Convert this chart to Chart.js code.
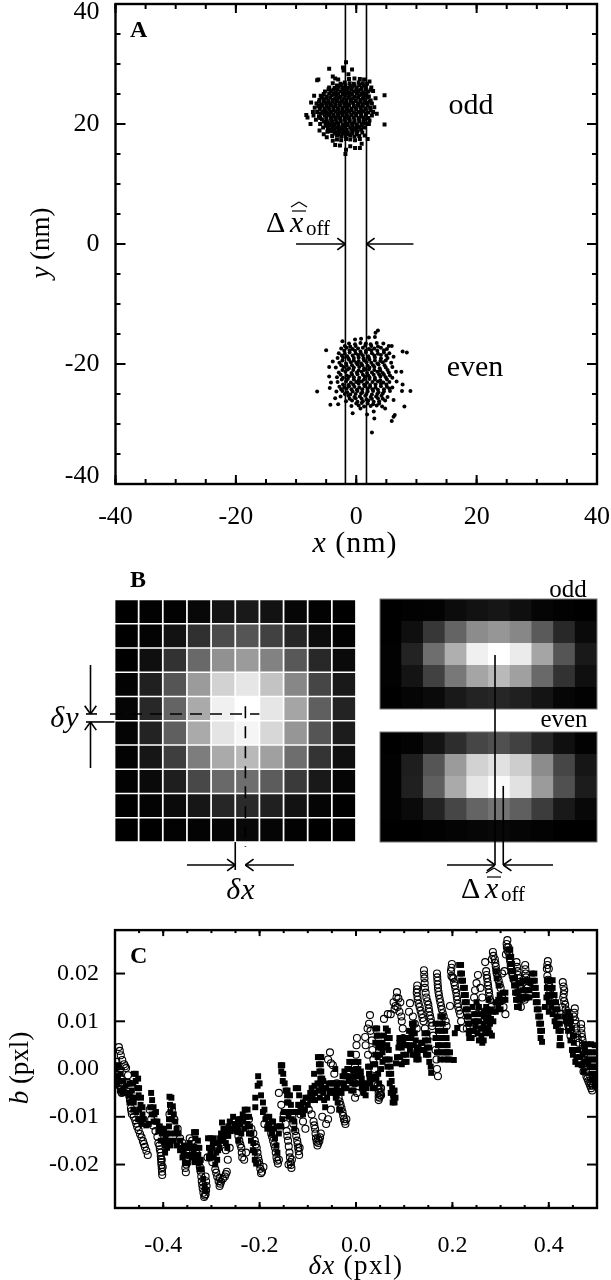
<!DOCTYPE html>
<html>
<head>
<meta charset="utf-8">
<title>Panels A, B, C</title>
<script src="https://cdn.jsdelivr.net/npm/chart.js@4"></script>
<style>
  body { margin: 0; background: #fff; }
  #page { position: relative; width: 611px; height: 1280px; overflow: hidden; }
  canvas { position: absolute; }
</style>
</head>
<body>
<div id="page">
  <canvas id="chartA" width="611" height="570" style="left:0px;top:0px"></canvas>
  <canvas id="chartB" width="380" height="350" style="left:0px;top:560px"></canvas>
  <canvas id="chartOdd" width="241" height="150" style="left:370px;top:570px"></canvas>
  <canvas id="chartEven" width="241" height="350" style="left:370px;top:570px"></canvas>
  <canvas id="chartC" width="611" height="355" style="left:0px;top:925px"></canvas>
</div>
<script>
const SERIF = '"Liberation Serif"';

// panel A, localisations (nm)
const axisTicksA = [-40, -20, 0, 20, 40];
const offsetLinesA = [-1.8, 1.7];
const oddPoints = [
  [-4.5,29.2],[-6.5,27.3],[-6.3,27.4],[-1.7,30.3],[-2.2,29.4],[-2.1,28.9],[-0.7,29.1],[-1.3,28.3],[-3.9,27.9],[-3.5,27.6],
  [4.7,24.8],[4.7,19.9],[-8.1,21.1],[-8.3,21.5],[-7.6,20.0],[-7.2,22.0],[-7.5,23.6],[-7.0,24.7],[2.2,27.1],[2.5,26.1],
  [3.2,24.3],[3.4,21.7],[2.1,20.0],[1.9,17.5],[0.9,16.7],[0.6,16.0],[-0.2,16.0],[-1.0,16.3],[-2.7,16.4],[-1.8,15.0],
  [-3.5,16.5],[-3.9,17.2],[-4.9,17.8],[-5.4,18.3],[-6.1,18.9],[-1.7,15.7],
  [-3.0,27.4],[-1.2,27.5],[-0.3,27.6],[0.6,27.5],[1.3,27.4],
  [-3.9,26.8],[-2.6,26.7],[-1.9,26.9],[-1.1,26.8],[-0.4,26.7],[0.4,26.9],[1.1,26.8],[1.8,26.7],
  [-4.5,26.1],[-3.6,26.0],[-2.9,26.2],[-2.2,26.1],[-1.4,26.0],[-0.7,26.2],[0.1,26.1],[0.9,26.0],[1.6,26.2],
  [-5.2,25.4],[-4.2,25.5],[-3.4,25.3],[-2.6,25.4],[-1.9,25.5],[-1.2,25.3],[-0.4,25.4],[0.3,25.5],[1.2,25.3],[2.0,25.4],[2.8,25.5],
  [-5.9,24.7],[-4.9,24.6],[-4.1,24.8],[-3.3,24.7],[-2.6,24.6],[-1.8,24.8],[-1.1,24.7],[-0.3,24.6],[0.5,24.8],[1.3,24.7],[2.1,24.6],
  [-6.1,24.0],[-5.4,24.1],[-4.6,23.9],[-3.9,24.0],[-3.1,24.1],[-2.4,23.9],[-1.6,24.0],[-0.9,24.1],[-0.1,23.9],[0.7,24.0],[1.4,24.1],[2.4,23.9],
  [-6.6,23.4],[-5.8,23.3],[-5.0,23.5],[-4.3,23.4],[-3.5,23.3],[-2.8,23.5],[-2.0,23.4],[-1.3,23.3],[-0.5,23.5],[0.3,23.4],[1.0,23.3],[1.8,23.5],[2.6,23.4],
  [-6.9,22.7],[-6.0,22.8],[-5.3,22.6],[-4.6,22.7],[-3.8,22.8],[-3.1,22.6],[-2.3,22.7],[-1.6,22.8],[-0.8,22.6],[-0.1,22.7],[0.7,22.8],[1.5,22.6],[2.3,22.7],[3.0,22.8],
  [-6.5,22.0],[-5.6,22.1],[-4.9,21.9],[-4.2,22.0],[-3.4,22.1],[-2.7,21.9],[-1.9,22.0],[-1.2,22.1],[-0.4,21.9],[0.4,22.0],[1.2,22.1],[2.0,21.9],[2.8,22.0],
  [-7.1,21.4],[-6.2,21.3],[-5.2,21.5],[-4.5,21.4],[-3.8,21.3],[-3.0,21.5],[-2.3,21.4],[-1.5,21.3],[-0.8,21.5],[0.0,21.4],[0.8,21.3],[1.6,21.5],[2.6,21.4],
  [-6.7,20.7],[-5.7,20.8],[-4.9,20.6],[-4.1,20.7],[-3.4,20.8],[-2.6,20.6],[-1.9,20.7],[-1.1,20.8],[-0.3,20.6],[0.5,20.7],[1.3,20.8],[2.2,20.6],
  [-6.0,20.0],[-5.1,20.1],[-4.4,19.9],[-3.7,20.0],[-3.0,20.1],[-2.2,19.9],[-1.5,20.0],[-0.7,20.1],[0.1,19.9],[0.9,20.0],[1.6,20.1],
  [-5.5,19.4],[-4.7,19.3],[-4.0,19.5],[-3.3,19.4],[-2.5,19.3],[-1.8,19.5],[-1.0,19.4],[-0.3,19.3],[0.5,19.5],[1.3,19.4],
  [-4.8,18.7],[-4.2,18.8],[-3.5,18.6],[-2.8,18.7],[-2.1,18.8],[-1.4,18.6],[-0.6,18.7],[0.2,18.8],[1.0,18.6],
  [-4.0,18.0],[-3.2,18.1],[-2.5,17.9],[-1.8,18.0],[-1.0,18.1],[-0.3,17.9],[0.5,18.0],[1.4,18.1],
  [-3.2,17.4],[-2.5,17.3],[-1.7,17.5],[-1.0,17.4],[-0.2,17.3],[0.6,17.5]
];
const oddCore = [
  [-3.2,26.4],[-2.5,26.5],[-1.8,26.4],[-1.0,26.3],[-0.3,26.4],[0.5,26.5],[1.2,26.4],
  [-4.6,25.8],[-3.8,25.7],[-3.1,25.8],[-2.3,25.7],[-1.6,25.8],[-0.8,25.7],[0.0,25.8],[0.8,25.7],[1.6,25.8],[2.4,25.7],
  [-5.4,25.0],[-4.5,25.1],[-3.7,25.0],[-3.0,25.1],[-2.2,25.0],[-1.5,25.1],[-0.7,25.0],[0.1,25.1],[0.9,25.0],[1.7,25.1],
  [-5.7,24.4],[-5.0,24.3],[-4.3,24.4],[-3.5,24.3],[-2.8,24.4],[-2.0,24.3],[-1.3,24.4],[-0.5,24.3],[0.3,24.4],[1.1,24.3],[1.9,24.4],
  [-6.2,23.7],[-5.4,23.7],[-4.7,23.6],[-3.9,23.7],[-3.2,23.8],[-2.4,23.7],[-1.7,23.6],[-0.9,23.7],[-0.1,23.8],[0.7,23.7],[1.4,23.6],[2.2,23.7],
  [-6.3,23.0],[-5.6,23.1],[-4.9,23.0],[-4.2,23.1],[-3.4,23.0],[-2.7,23.1],[-1.9,23.0],[-1.2,23.1],[-0.4,23.0],[0.3,23.1],[1.1,23.0],[1.9,23.1],
  [-6.1,22.4],[-5.2,22.3],[-4.5,22.4],[-3.8,22.3],[-3.0,22.4],[-2.3,22.3],[-1.5,22.4],[-0.8,22.3],[0.0,22.4],[0.8,22.3],[1.6,22.4],[2.4,22.3],
  [-5.9,21.7],[-5.3,21.8],[-4.6,21.7],[-3.8,21.6],[-3.1,21.7],[-2.3,21.8],[-1.6,21.7],[-0.8,21.6],[0.0,21.7],[0.8,21.8],[1.6,21.7],
  [-6.0,21.0],[-5.0,21.1],[-4.2,21.0],[-3.4,21.1],[-2.7,21.0],[-1.9,21.1],[-1.2,21.0],[-0.4,21.1],[0.4,21.0],[1.2,21.1],[2.0,21.0],
  [-5.4,20.4],[-4.7,20.3],[-4.0,20.4],[-3.3,20.3],[-2.6,20.4],[-1.8,20.3],[-1.1,20.4],[-0.3,20.3],[0.5,20.4],[1.2,20.3],
  [-5.0,19.7],[-4.3,19.8],[-3.6,19.7],[-2.9,19.6],[-2.1,19.7],[-1.4,19.8],[-0.6,19.7],[0.1,19.6],[0.9,19.7],
  [-4.4,19.0],[-3.7,19.1],[-3.0,19.0],[-2.3,19.1],[-1.6,19.0],[-0.8,19.1],[0.0,19.0],[0.8,19.1],
  [-3.6,18.4],[-2.9,18.3],[-2.2,18.4],[-1.4,18.3],[-0.7,18.4],[0.1,18.3]
];
const evenPoints = [
  [-6.5,-24.6],[-5.0,-17.7],[-4.3,-26.8],[-3.0,-26.7],[-4.5,-22.1],[-4.2,-23.1],[-4.4,-24.0],[-4.5,-20.5],[-3.9,-19.6],[-3.5,-25.7],
  [-2.3,-16.2],[-0.6,-28.2],[2.6,-31.4],[3.0,-29.1],[5.9,-29.5],[6.2,-28.8],[6.4,-28.5],[8.0,-27.1],[9.0,-24.5],[7.7,-17.9],
  [8.4,-18.1],[7.6,-24.5],[7.7,-23.4],[7.5,-21.3],[3.2,-14.8],[3.6,-14.4],[3.1,-15.5],[-0.2,-15.9],[0.8,-15.8],[2.1,-15.6],
  [5.9,-17.0],[5.4,-17.0],[6.2,-18.8],[6.2,-26.0],[4.8,-27.4],[2.9,-27.9],[1.8,-28.4],[0.7,-27.4],
  [-1.2,-16.6],[-0.2,-16.7],[0.7,-16.5],[1.6,-16.6],[2.4,-16.7],[3.4,-16.5],[4.5,-16.6],
  [-2.5,-17.4],[-1.6,-17.3],[-0.6,-17.5],[0.3,-17.4],[1.1,-17.3],[2.1,-17.5],[3.0,-17.4],[4.1,-17.3],[5.1,-17.5],
  [-2.9,-18.2],[-1.9,-18.3],[-1.1,-18.1],[-0.1,-18.2],[0.8,-18.3],[1.6,-18.1],[2.6,-18.2],[3.6,-18.3],[4.6,-18.1],[5.5,-18.2],
  [-3.1,-19.0],[-2.2,-18.9],[-1.3,-19.1],[-0.4,-19.0],[0.4,-18.9],[1.2,-19.1],[2.1,-19.0],[3.1,-18.9],[4.1,-19.1],[5.2,-19.0],
  [-2.8,-19.8],[-1.7,-19.9],[-0.9,-19.7],[0.0,-19.8],[0.8,-19.9],[1.7,-19.7],[2.5,-19.8],[3.5,-19.9],[4.4,-19.7],[5.8,-19.8],
  [-3.4,-20.6],[-2.1,-20.5],[-1.2,-20.7],[-0.4,-20.6],[0.5,-20.5],[1.3,-20.7],[2.2,-20.6],[3.0,-20.5],[3.9,-20.7],[4.9,-20.6],[6.0,-20.5],
  [-2.9,-21.4],[-1.8,-21.3],[-0.8,-21.5],[0.1,-21.4],[0.9,-21.3],[1.8,-21.5],[2.6,-21.4],[3.5,-21.3],[4.4,-21.5],[5.4,-21.4],[6.6,-21.3],
  [-3.2,-22.2],[-2.2,-22.3],[-1.2,-22.1],[-0.4,-22.2],[0.5,-22.3],[1.4,-22.1],[2.2,-22.2],[3.1,-22.3],[4.0,-22.1],[4.9,-22.2],[6.0,-22.3],
  [-3.1,-23.0],[-1.7,-22.9],[-0.9,-23.1],[0.0,-23.0],[0.9,-22.9],[1.8,-23.1],[2.7,-23.0],[3.6,-22.9],[4.5,-23.1],[5.5,-23.0],[6.7,-22.9],
  [-2.8,-23.8],[-2.0,-23.9],[-1.2,-23.7],[-0.3,-23.8],[0.5,-23.9],[1.4,-23.7],[2.3,-23.8],[3.2,-23.9],[4.1,-23.7],[5.1,-23.8],[6.0,-23.9],
  [-3.3,-24.6],[-2.3,-24.5],[-1.5,-24.7],[-0.6,-24.6],[0.2,-24.5],[1.0,-24.7],[1.9,-24.6],[2.8,-24.5],[3.7,-24.7],[4.6,-24.6],[5.6,-24.5],
  [-2.6,-25.4],[-1.3,-25.3],[-0.3,-25.5],[0.6,-25.4],[1.5,-25.3],[2.4,-25.5],[3.3,-25.4],[4.2,-25.3],[5.2,-25.5],
  [-1.7,-26.2],[-0.7,-26.1],[0.2,-26.3],[1.1,-26.2],[2.0,-26.1],[2.9,-26.3],[3.8,-26.2],[4.8,-26.1],
  [-0.8,-27.0],[0.4,-26.9],[1.3,-27.1],[2.4,-27.0],[3.4,-26.9],[4.3,-27.1]
];
const evenCore = [
  [-1.9,-17.0],[-1.0,-17.1],[-0.1,-17.0],[1.5,-16.9],[2.5,-17.0],[3.6,-17.1],
  [-2.0,-17.8],[-1.1,-17.7],[-0.2,-17.8],[0.7,-17.9],[1.6,-17.8],[2.5,-17.7],[3.5,-17.8],[4.6,-17.7],
  [-2.4,-18.6],[-1.5,-18.7],[-0.6,-18.6],[0.3,-18.5],[1.1,-18.6],[2.0,-18.7],[3.0,-18.6],[4.1,-18.5],[5.0,-18.6],
  [-2.3,-19.4],[-1.2,-19.3],[-0.4,-19.4],[0.4,-19.5],[1.3,-19.4],[2.2,-19.3],[3.1,-19.4],[4.0,-19.5],[4.9,-19.4],
  [-2.5,-20.2],[-1.6,-20.3],[-0.7,-20.2],[0.2,-20.1],[1.0,-20.2],[1.9,-20.3],[2.8,-20.2],[3.7,-20.1],[4.7,-20.2],
  [-2.3,-21.0],[-1.4,-20.9],[-0.5,-21.0],[0.4,-21.1],[1.3,-21.0],[2.1,-20.9],[3.0,-21.0],[4.0,-21.1],[5.2,-21.0],
  [-2.6,-21.8],[-1.6,-21.9],[-0.7,-21.8],[0.2,-21.7],[1.1,-21.8],[2.0,-21.9],[2.9,-21.8],[3.8,-21.7],[4.6,-21.8],[5.6,-21.9],
  [-2.4,-22.6],[-1.4,-22.5],[-0.4,-22.6],[0.4,-22.7],[1.3,-22.6],[2.2,-22.5],[3.1,-22.6],[4.0,-22.7],[5.1,-22.6],
  [-2.2,-23.4],[-1.3,-23.5],[-0.5,-23.4],[0.4,-23.3],[1.3,-23.4],[2.3,-23.5],[3.2,-23.4],[4.1,-23.3],[5.0,-23.4],
  [-2.5,-24.2],[-1.6,-24.1],[-0.8,-24.2],[0.1,-24.3],[1.0,-24.2],[1.9,-24.1],[2.7,-24.2],[3.6,-24.3],[4.6,-24.2],[5.5,-24.1],
  [-1.9,-25.0],[-1.0,-25.1],[-0.1,-25.0],[0.8,-24.9],[1.7,-25.0],[2.6,-25.1],[3.5,-25.0],[4.4,-24.9],
  [-1.1,-25.8],[-0.1,-25.7],[0.9,-25.8],[1.7,-25.9],[2.6,-25.8],[3.6,-25.7],[4.4,-25.8],
  [0.0,-26.6],[0.9,-26.5],[1.9,-26.6],[2.8,-26.7],[3.8,-26.6]
];

// panel B, grey level of each pixel (0-255), rows top to bottom
const greyFull = [
  [0,2,2,8,20,25,18,6,2,0],
  [0,3,18,48,75,85,65,38,12,2],
  [0,15,50,105,145,155,130,88,40,10],
  [3,32,85,155,210,230,195,135,70,25],
  [5,40,100,170,240,255,230,165,95,35],
  [5,35,95,170,228,245,215,150,85,28],
  [3,22,62,125,170,185,160,110,52,15],
  [2,10,30,72,105,110,92,58,25,5],
  [0,3,10,22,38,42,32,18,5,0],
  [0,0,2,3,5,8,5,2,0,0]
];
const greyOdd = [
  [0,2,3,12,18,22,15,5,2,0],
  [0,15,55,100,140,150,135,90,40,10],
  [2,35,110,175,240,255,235,165,85,25],
  [2,20,65,120,165,185,160,105,50,15],
  [0,5,10,25,35,38,32,20,6,2]
];
const greyEven = [
  [0,3,20,45,70,80,65,38,15,2],
  [2,30,85,155,210,225,205,140,70,22],
  [2,32,95,170,230,250,225,155,80,28],
  [2,10,35,70,100,115,95,60,25,8],
  [0,0,2,4,6,8,5,3,0,0]
];
const pixelColumns = ['1','2','3','4','5','6','7','8','9','10'];

// panel C, bias b against delta x (pxl)
const axisTicksCx = [-0.4, -0.2, 0, 0.2, 0.4];
const axisTicksCy = [-0.02, -0.01, 0, 0.01, 0.02];
const biasOpen = [
  [-.492,.0046],[-.490,.0038],[-.488,.0029],[-.485,.0019],[-.481,.0010],[-.477,.0002],[-.473,-.0013],[-.473,-.0029],[-.471,-.0048],[-.469,-.0065],
  [-.467,-.0082],[-.465,-.0094],[-.458,-.0107],[-.454,-.0121],[-.448,-.0136],[-.442,-.0151],[-.438,-.0163],[-.432,-.0180],
  [-.497,.0015],[-.495,.0005],[-.496,-.0015],[-.494,-.0030],[-.488,-.0020],[-.486,-.0050],
  [-.428,-.0085],[-.425,-.0105],[-.421,-.0118],[-.416,-.0130],[-.412,-.0142],[-.410,-.0155],[-.407,-.0168],[-.405,-.0182],[-.404,-.0195],[-.403,-.0208],[-.402,-.0222],
  [-.387,-.0095],[-.382,-.0085],[-.377,-.0105],[-.370,-.0125],[-.365,-.0145],[-.360,-.0155],[-.355,-.0165],[-.352,-.0175],[-.352,-.0200],[-.353,-.0216],
  [-.345,-.0145],[-.340,-.0150],[-.335,-.0165],[-.330,-.0178],[-.326,-.0195],[-.322,-.0215],[-.320,-.0235],[-.318,-.0250],[-.315,-.0268],[-.312,-.0262],[-.310,-.0245],[-.312,-.0225],[-.308,-.0185],
  [-.303,-.0185],[-.298,-.0195],[-.292,-.0210],[-.288,-.0225],[-.283,-.0245],[-.280,-.0236],[-.272,-.0225],[-.268,-.0215],[-.266,-.0190],[-.270,-.0170],
  [-.262,-.0165],[-.250,-.0110],[-.246,-.0130],[-.242,-.0150],[-.238,-.0165],[-.236,-.0185],
  [-.222,-.0105],[-.217,-.0125],[-.213,-.0135],[-.210,-.0150],[-.206,-.0165],[-.203,-.0185],[-.200,-.0200],[-.197,-.0218],[-.192,-.0205],
  [-.190,-.0115],[-.182,-.0120],[-.176,-.0135],[-.172,-.0150],[-.168,-.0165],[-.165,-.0185],[-.162,-.0198],
  [-.160,-.0050],[-.155,-.0075],[-.150,-.0095],[-.146,-.0115],[-.144,-.0130],[-.141,-.0150],[-.138,-.0175],[-.136,-.0195],[-.134,-.0207],
  [-.132,-.0100],[-.130,-.0115],[-.126,-.0130],[-.122,-.0150],[-.120,-.0165],[-.118,-.0180],[-.115,-.0095],[-.110,-.0110],[-.105,-.0125],
  [-.098,-.0085],[-.092,-.0095],[-.088,-.0110],[-.085,-.0125],[-.083,-.0145],[-.080,-.0160],[-.076,-.0150],[-.073,-.0135],
  [-.070,-.0100],[-.062,-.0115],[-.058,-.0105],[-.052,-.0085],
  [-.054,.0035],[-.058,.0020],[-.052,.0012],[-.048,.0008],[-.045,-.0010],[-.040,-.0030],[-.036,-.0060],[-.032,-.0075],[-.028,-.0090],[-.025,-.0105],[-.022,-.0115],
  [.002,.0065],[.001,.0050],[.000,.0030],[-.002,.0005],[-.004,-.0015],[-.003,-.0030],[-.002,-.0060],[.002,-.0050],
  [.019,.0067],[.020,.0050],[.025,.0030],
  [.029,.0113],[.027,.0095],[.024,.0085],[.030,.0080],[.033,.0060],[.034,.0040],[.036,.0020],[.038,.0000],[.040,-.0020],[.045,-.0035],[.047,-.0050],[.047,-.0065],[.050,-.0055],[.052,-.0040],
  [.085,.0161],[.078,.0140],[.092,.0140],[.080,.0125],[.090,.0120],[.095,.0100],[.097,.0085],[.098,.0065],[.058,.0105],[.066,.0115],[.072,.0115],
  [.112,.0138],[.110,.0120],[.118,.0110],[.122,.0095],[.126,.0085],
  [.127,.0175],[.126,.0160],[.128,.0145],[.132,.0130],[.136,.0115],[.140,.0100],[.143,.0085],
  [.141,.0207],[.142,.0190],[.143,.0170],[.146,.0150],[.150,.0135],[.152,.0120],[.155,.0105],[.158,.0090],[.160,.0070],[.165,.0040],[.167,.0020],[.168,.0000],[.170,-.0015],
  [.168,.0200],[.169,.0185],[.170,.0170],[.172,.0155],[.175,.0140],[.178,.0125],[.182,.0110],[.195,.0132],[.186,.0100],[.188,.0090],
  [.199,.0220],[.197,.0205],[.198,.0195],[.202,.0190],[.205,.0175],[.208,.0160],[.210,.0145],[.212,.0130],[.216,.0115],[.218,.0100],[.222,.0085],[.230,.0085],[.245,.0075],
  [.253,.0197],[.250,.0180],[.247,.0165],[.258,.0170],[.262,.0150],[.245,.0150],[.252,.0130],[.262,.0120],
  [.268,.0224],[.270,.0205],[.272,.0190],[.274,.0175],[.276,.0160],[.278,.0145],[.280,.0130],
  [.284,.0245],[.282,.0230],[.288,.0230],[.290,.0215],[.292,.0200],[.296,.0185],[.300,.0170],[.303,.0150],[.306,.0130],[.310,.0115],
  [.314,.0270],[.313,.0255],[.316,.0255],[.311,.0240],[.318,.0240],[.320,.0225],[.322,.0210],[.325,.0195],[.330,.0180],[.335,.0160],[.338,.0145],[.342,.0130],
  [.303,.0200],[.308,.0205],[.333,.0224],[.335,.0205],[.338,.0190],[.340,.0175],[.345,.0160],[.350,.0145],
  [.351,.0218],[.352,.0200],[.354,.0185],[.356,.0170],[.345,.0148],[.352,.0150],
  [.398,.0226],[.396,.0210],[.400,.0210],[.397,.0195],[.400,.0180],[.403,.0165],
  [.429,.0182],[.432,.0165],[.430,.0150],[.434,.0135],[.428,.0130],[.436,.0115],[.425,.0115],[.438,.0100],[.430,.0090],[.442,.0085],[.445,.0070],
  [.454,.0127],[.452,.0110],[.456,.0095],[.458,.0075],[.462,.0055],
  [.467,.0094],[.468,.0075],[.470,.0060],[.472,.0040],[.474,.0020],[.476,.0005],[.472,-.0005],[.478,-.0015],[.482,-.0025],[.486,-.0035],
  [.490,-.0045],[.488,-.0030],[.492,-.0020],[.486,-.0015]
];
const biasOpenTeeth = [
  [-.479,.0006],[-.470,-.0056],[-.466,-.0088],[-.461,-.0100],[-.456,-.0114],[-.451,-.0128],[-.445,-.0143],[-.440,-.0157],[-.435,-.0171],
  [-.4055,-.0175],[-.4045,-.0188],[-.4035,-.0201],[-.4025,-.0215],[-.401,-.0205],[-.403,-.0190],[-.408,-.0160],
  [-.352,-.0187],[-.354,-.0207],[-.350,-.0195],
  [-.324,-.0205],[-.321,-.0225],[-.319,-.0243],[-.3165,-.0259],[-.3135,-.0265],[-.311,-.0254],[-.311,-.0235],
  [-.290,-.0217],[-.285,-.0235],[-.2815,-.0240],[-.276,-.0230],[-.270,-.0220],[-.283,-.0228],
  [-.244,-.0140],[-.240,-.0158],[-.237,-.0175],[-.232,-.0190],[-.228,-.0175],
  [-.208,-.0158],[-.2045,-.0175],[-.2015,-.0192],[-.1985,-.0209],[-.195,-.0215],[-.205,-.0195],
  [-.174,-.0142],[-.170,-.0158],[-.1665,-.0175],[-.1635,-.0192],[-.160,-.0190],
  [-.1425,-.0140],[-.1395,-.0162],[-.137,-.0185],[-.135,-.0201],[-.140,-.0200],[-.133,-.0190],
  [-.124,-.0140],[-.121,-.0157],[-.119,-.0172],[-.117,-.0165],
  [-.0865,-.0118],[-.084,-.0135],[-.0815,-.0152],[-.078,-.0155],[-.0745,-.0143],[-.079,-.0145],
  [-.034,-.0068],[-.030,-.0082],[-.0265,-.0098],[-.0235,-.0110],[-.020,-.0105],
  [.046,-.0042],[.047,-.0058],[.0485,-.0060],[.051,-.0048],[.052,-.0055],[.049,-.0040],
  [.084,.0150],[.088,.0148],[.082,.0132],[.086,.0130],[.094,.0110],
  [.1265,.0167],[.1275,.0152],[.130,.0137],[.134,.0122],[.138,.0107],
  [.1415,.0198],[.1425,.0180],[.1445,.0160],[.148,.0142],[.151,.0127],[.1535,.0112],[.1565,.0097],
  [.1685,.0192],[.1695,.0177],[.171,.0162],[.1735,.0147],[.1765,.0132],[.180,.0117],
  [.198,.0212],[.200,.0192],[.2035,.0182],[.2065,.0167],[.209,.0152],[.211,.0137],[.214,.0122],
  [.271,.0197],[.273,.0182],[.275,.0167],[.277,.0152],
  [.285,.0237],[.289,.0222],[.291,.0207],[.294,.0192],[.298,.0177],
  [.3125,.0262],[.3145,.0248],[.319,.0232],[.321,.0217],[.3235,.0202],[.3275,.0187],
  [.334,.0214],[.3365,.0197],[.339,.0182],[.3425,.0167],
  [.3515,.0209],[.353,.0192],[.355,.0177],
  [.397,.0218],[.3985,.0187],[.4015,.0172],[.405,.0155],[.408,.0145],
  [.4305,.0173],[.431,.0157],[.432,.0142],[.435,.0125],[.437,.0107],[.440,.0092],
  [.453,.0118],[.455,.0102],[.457,.0085],[.460,.0065],
  [.4675,.0085],[.469,.0067],[.471,.0050],[.473,.0030],[.475,.0012],[.477,-.0005],[.480,-.0020],[.484,-.0030],[.488,-.0040],[.491,-.0035]
];
const biasFilled = [
  [-.499,.0000],[-.497,-.0015],[-.495,-.0030],[-.499,-.0035],[-.495,-.0015],[-.490,-.0045],[-.485,-.0050],[-.480,-.0050],[-.493,.0008],[-.488,-.0010],[-.483,-.0025],[-.478,-.0035],[-.490,-.0025],[-.483,-.0040],[-.476,-.0050],
  [-.461,-.0010],[-.457,-.0010],[-.457,-.0025],[-.452,-.0020],[-.454,-.0040],[-.450,-.0040],[-.451,-.0055],[-.446,-.0060],[-.447,-.0075],[-.443,-.0080],[-.443,-.0095],[-.440,-.0105],[-.435,-.0118],[-.430,-.0115],
  [-.462,-.0030],[-.465,-.0045],[-.465,-.0060],[-.461,-.0070],[-.456,-.0090],[-.452,-.0105],
  [-.425,-.0050],[-.423,-.0065],[-.420,-.0080],[-.427,-.0080],[-.418,-.0095],[-.424,-.0095],[-.412,-.0110],[-.415,-.0090],[-.407,-.0120],[-.403,-.0135],[-.400,-.0150],[-.396,-.0160],[-.393,-.0135],[-.388,-.0120],[-.398,-.0125],[-.403,-.0125],[-.390,-.0150],[-.396,-.0175],
  [-.387,-.0058],[-.383,-.0060],[-.386,-.0075],[-.380,-.0078],[-.385,-.0090],[-.378,-.0095],[-.382,-.0105],[-.388,-.0105],[-.375,-.0110],[-.372,-.0125],[-.368,-.0135],[-.365,-.0150],[-.362,-.0165],[-.358,-.0175],[-.352,-.0165],[-.345,-.0155],[-.360,-.0185],[-.355,-.0197],[-.350,-.0197],
  [-.336,-.0132],[-.332,-.0132],[-.333,-.0145],[-.328,-.0150],[-.330,-.0165],[-.325,-.0165],[-.327,-.0180],[-.322,-.0190],[-.325,-.0195],[-.320,-.0210],[-.317,-.0230],[-.314,-.0245],[-.312,-.0255],[-.345,-.0165],[-.340,-.0185],[-.335,-.0195],[-.332,-.0185],
  [-.307,-.0145],[-.302,-.0145],[-.295,-.0145],[-.305,-.0165],[-.298,-.0165],[-.300,-.0185],[-.295,-.0185],[-.292,-.0200],[-.288,-.0190],[-.290,-.0175],[-.286,-.0170],
  [-.278,-.0112],[-.275,-.0125],[-.280,-.0135],[-.272,-.0140],[-.278,-.0150],[-.270,-.0155],[-.267,-.0165],[-.265,-.0120],[-.262,-.0110],
  [-.255,-.0100],[-.252,-.0115],[-.258,-.0125],[-.248,-.0130],[-.245,-.0105],[-.240,-.0115],[-.244,-.0150],[-.238,-.0135],[-.232,-.0125],
  [-.231,-.0085],[-.225,-.0085],[-.228,-.0100],[-.222,-.0100],[-.225,-.0115],[-.220,-.0120],[-.222,-.0135],[-.217,-.0135],[-.218,-.0150],[-.213,-.0155],[-.214,-.0170],[-.210,-.0175],[-.210,-.0190],[-.207,-.0198],
  [-.203,-.0015],[-.200,-.0030],[-.209,-.0060],[-.209,-.0080],[-.204,-.0035],[-.197,-.0055],[-.193,-.0070],[-.190,-.0085],[-.186,-.0100],[-.182,-.0115],[-.178,-.0125],[-.175,-.0135],[-.193,-.0090],[-.188,-.0105],[-.184,-.0125],
  [-.172,-.0110],[-.170,-.0125],[-.168,-.0145],[-.165,-.0160],[-.163,-.0175],[-.158,-.0120],[-.153,-.0105],
  [-.156,.0008],[-.153,.0008],[-.155,-.0005],[-.151,-.0010],[-.152,-.0025],[-.148,-.0030],[-.146,-.0045],[-.143,-.0055],[-.142,-.0045],[-.137,-.0055],[-.140,-.0070],[-.135,-.0075],[-.136,-.0090],[-.130,-.0090],[-.133,-.0105],[-.128,-.0110],[-.128,-.0125],[-.143,-.0070],
  [-.125,-.0040],[-.120,-.0040],[-.118,-.0055],[-.120,-.0075],[-.115,-.0085],[-.113,-.0080],[-.110,-.0095],[-.106,-.0085],[-.100,-.0075],[-.095,-.0065],[-.090,-.0060],[-.085,-.0050],[-.092,-.0040],[-.086,-.0035],[-.080,-.0030],[-.075,-.0030],[-.078,-.0045],[-.072,-.0045],[-.068,-.0040],
  [-.079,.0025],[-.075,.0025],[-.072,.0025],[-.077,.0010],[-.073,.0010],[-.076,-.0005],[-.072,-.0005],[-.074,-.0020],[-.070,-.0020],[-.072,-.0035],[-.068,-.0050],[-.066,-.0065],[-.064,-.0080],[-.087,-.0010],
  [-.057,-.0030],[-.052,-.0030],[-.050,-.0045],[-.045,-.0050],[-.042,-.0060],[-.038,-.0070],[-.035,-.0085],[-.032,-.0085],[-.040,-.0040],[-.035,-.0045],[-.030,-.0030],[-.025,-.0030],[-.028,-.0015],[-.022,-.0015],[-.043,.0000],
  [-.012,.0032],[-.010,.0032],[-.014,.0015],[-.008,.0015],[-.016,.0000],[-.006,-.0002],[-.004,-.0015],[-.012,-.0015],[-.020,-.0015],[-.002,-.0030],[-.008,-.0030],[.000,.0000],[.005,.0000],[.000,.0015],[.005,.0015],[-.018,.0000],[-.024,-.0005],
  [.004,-.0005],[.008,-.0010],[.012,-.0020],[.012,-.0040],[.016,-.0050],[.020,-.0055],[.005,-.0030],[.010,-.0015],
  [.025,.0005],[.029,.0005],[.027,-.0010],[.032,-.0020],[.030,-.0030],[.035,-.0040],[.038,-.0015],
  [.040,.0085],[.044,.0085],[.043,.0070],[.047,.0070],[.048,.0055],[.052,.0045],[.040,.0055],[.046,.0045],[.050,.0030],[.055,.0015],[.045,.0025],[.052,.0000],[.046,-.0010],[.042,-.0020],[.048,-.0030],[.038,-.0040],
  [.062,.0085],[.066,.0080],[.064,.0065],[.070,.0065],[.065,.0050],[.068,.0040],[.070,.0020],[.072,.0005],[.073,-.0010],[.074,-.0025],[.075,-.0040],[.077,-.0055],[.076,-.0070],[.080,-.0070],[.082,-.0060],[.080,-.0045],[.058,.0070],[.055,.0055],[.083,.0012],
  [.090,.0065],[.095,.0065],[.088,.0045],[.095,.0045],[.100,.0050],[.105,.0065],[.085,.0025],[.092,.0025],[.098,.0030],[.095,.0010],[.100,.0015],[.105,.0030],[.110,.0050],[.115,.0065],[.120,.0050],[.118,.0085],
  [.116,.0095],[.120,.0095],[.115,.0075],[.122,.0075],[.124,.0060],[.126,.0045],[.128,.0030],[.130,.0020],[.125,.0020],
  [.142,.0075],[.148,.0075],[.143,.0060],[.150,.0060],[.147,.0045],[.152,.0045],[.150,.0030],[.152,.0015],[.155,.0005],[.156,-.0008],[.135,.0055],[.140,.0040],[.138,.0055],[.142,.0040],
  [.175,.0110],[.180,.0110],[.172,.0095],[.180,.0095],[.178,.0080],[.185,.0080],[.182,.0065],[.188,.0065],[.186,.0050],[.190,.0050],[.190,.0035],[.195,.0035],[.194,.0020],[.203,.0019],[.165,.0095],[.170,.0080],[.165,.0065],[.172,.0065],[.170,.0050],[.175,.0050],[.178,.0065],[.210,.0086],[.205,.0075],
  [.214,.0218],[.218,.0218],[.216,.0200],[.220,.0200],[.218,.0185],[.222,.0185],[.222,.0170],[.226,.0170],[.224,.0155],[.228,.0155],[.226,.0140],[.230,.0140],[.228,.0125],[.232,.0125],[.230,.0110],[.234,.0110],[.232,.0095],[.236,.0095],[.236,.0080],[.240,.0080],[.240,.0065],[.234,.0075],
  [.244,.0100],[.250,.0115],[.255,.0130],[.248,.0090],[.255,.0100],[.260,.0115],[.265,.0120],[.270,.0130],[.258,.0085],[.265,.0095],[.270,.0100],[.275,.0115],[.280,.0125],[.252,.0075],[.260,.0070],[.268,.0075],[.272,.0085],[.278,.0095],[.262,.0055],[.278,.0075],[.282,.0070],[.250,.0140],[.274,.0108],[.272,.0125],[.275,.0145],
  [.290,.0205],[.292,.0190],[.296,.0175],[.298,.0155],[.300,.0140],[.305,.0145],[.310,.0145],[.300,.0125],
  [.316,.0250],[.320,.0250],[.318,.0235],[.322,.0235],[.320,.0220],[.324,.0220],[.322,.0205],[.326,.0205],[.325,.0190],[.330,.0190],[.328,.0175],[.332,.0175],[.330,.0160],[.335,.0160],[.332,.0145],[.337,.0145],[.334,.0130],[.338,.0130],
  [.345,.0185],[.352,.0185],[.358,.0185],[.345,.0165],[.352,.0165],[.360,.0165],
  [.365,.0200],[.370,.0200],[.367,.0185],[.371,.0185],[.369,.0170],[.373,.0170],[.371,.0155],[.375,.0155],[.373,.0140],[.377,.0140],[.375,.0125],[.379,.0125],[.378,.0110],[.382,.0110],[.380,.0095],[.384,.0095],[.382,.0080],[.386,.0080],[.383,.0065],[.386,.0057],
  [.396,.0186],[.402,.0186],[.408,.0186],[.396,.0170],[.402,.0170],[.408,.0170],[.412,.0155],[.405,.0155],[.398,.0155],[.410,.0140],[.415,.0140],[.413,.0125],[.418,.0125],[.416,.0110],[.420,.0110],[.418,.0095],[.423,.0095],[.420,.0080],[.425,.0080],[.423,.0065],[.426,.0050],[.422,.0050],
  [.440,.0120],[.444,.0110],[.446,.0100],[.448,.0085],[.450,.0070],[.452,.0055],[.455,.0040],[.457,.0025],[.460,.0010],[.468,.0008],[.472,-.0005],[.458,.0040],[.453,.0070],[.440,.0095],
  [.473,.0052],[.480,.0052],[.488,.0052],[.495,.0050],[.478,.0035],[.484,.0035],[.490,.0035],[.497,.0035],[.480,.0020],[.486,.0020],[.492,.0020],[.498,.0020],[.485,.0005],[.490,.0005],[.495,.0005],[.499,.0005],[.488,-.0010],[.494,-.0010],[.499,-.0010],[.492,-.0022],[.498,-.0022],[.496,-.0035],[.499,-.0035],[.470,.0030],[.474,.0015]
];
const biasFilledMass = [
  [-.472,-.0055],[-.470,-.0070],[-.465,-.0030],[-.470,-.0030],[-.462,-.0085],[-.457,-.0060],[-.450,-.0085],[-.447,-.0105],[-.445,-.0115],
  [-.415,-.0110],[-.420,-.0110],[-.410,-.0130],[-.405,-.0150],[-.395,-.0145],[-.385,-.0135],[-.392,-.0165],[-.385,-.0160],[-.378,-.0150],[-.375,-.0135],[-.372,-.0160],
  [-.365,-.0170],[-.357,-.0160],[-.350,-.0180],[-.345,-.0180],[-.340,-.0165],[-.337,-.0175],[-.328,-.0195],[-.325,-.0210],
  [-.305,-.0185],[-.302,-.0175],[-.297,-.0155],[-.290,-.0155],[-.285,-.0155],[-.282,-.0145],[-.283,-.0165],[-.275,-.0150],[-.270,-.0130],[-.265,-.0140],[-.260,-.0130],[-.255,-.0125],[-.250,-.0115],[-.245,-.0125],[-.240,-.0105],[-.235,-.0110],[-.235,-.0095],
  [-.180,-.0100],[-.175,-.0110],[-.165,-.0120],[-.160,-.0135],[-.155,-.0120],[-.150,-.0090],[-.145,-.0090],[-.140,-.0100],[-.128,-.0090],[-.122,-.0090],[-.118,-.0075],[-.110,-.0070],[-.105,-.0060],[-.100,-.0060],[-.095,-.0050],[-.085,-.0065],[-.075,-.0060],[-.068,-.0025],[-.062,-.0040],[-.060,-.0060],[-.055,-.0050],[-.048,-.0030],[-.045,-.0030],[-.040,-.0055],[-.035,-.0030],[-.030,-.0050],[-.025,-.0040],[-.020,-.0040],[-.015,-.0025],[-.010,-.0045],[-.005,-.0045],[.000,-.0015],[.005,-.0015],[.010,-.0005],[.015,-.0030],[.020,-.0030],[.022,-.0040],[.028,-.0020],[.035,-.0020],[.040,.0030],[.040,.0010],[.035,.0010],[.055,.0035],[.060,.0045],[.060,.0020],[.065,.0020],[.065,.0005],[.068,-.0010],[.070,-.0030],[.072,-.0050],[.078,-.0060],
  [.090,.0055],[.098,.0055],[.105,.0050],[.110,.0065],[.110,.0080],[.112,.0040],[.105,.0015],[.118,.0030],[.122,.0030],[.125,.0035],[.130,.0045],[.135,.0040],[.145,.0030],
  [.168,.0035],[.172,.0035],[.178,.0035],[.183,.0035],[.175,.0020],[.183,.0020],[.190,.0020],[.188,.0035],
  [.235,.0065],[.245,.0080],[.245,.0115],[.250,.0100],[.242,.0130],[.255,.0060],[.262,.0085],[.265,.0060],[.265,.0110],[.275,.0085],[.280,.0105],[.285,.0100],[.285,.0120],[.290,.0120],[.290,.0140],[.295,.0130],[.295,.0145],[.305,.0160],[.310,.0160],
  [.340,.0180],[.345,.0150],[.350,.0150],[.355,.0150],[.360,.0150],[.362,.0180],[.340,.0150],
  [.395,.0150],[.392,.0130],[.400,.0140],[.405,.0130],[.408,.0115],[.400,.0120],[.412,.0100],[.415,.0090],
  [.432,.0110],[.436,.0100],[.440,.0080],[.445,.0060],[.448,.0040],[.450,.0030],[.455,.0015],[.462,.0040],[.465,.0025],[.470,.0010],[.475,.0040],[.482,.0010]
];

function fixBox(width, height) {
  // keep the plot box where we put it, labels may stick out
  return function(scale) {
    if (width) scale.width = width;
    if (height) scale.height = height;
    scale.paddingTop = scale.paddingBottom = scale.paddingLeft = scale.paddingRight = 0;
  };
}

function useTicks(values) {
  return function(scale) {
    scale.ticks = values.map(v => ({ value: v }));
  };
}

function drawRuns(ctx, runs, x, y, rotate) {
  // mixed italic / roman text on one baseline, centred on x
  ctx.save();
  ctx.translate(x, y);
  if (rotate) ctx.rotate(-Math.PI / 2);
  ctx.fillStyle = '#000';
  ctx.textAlign = 'left';
  ctx.textBaseline = 'alphabetic';
  let total = 0;
  runs.forEach(r => {
    ctx.font = r[0];
    ctx.letterSpacing = r[2] || '0px';
    total += ctx.measureText(r[1]).width;
  });
  let cx = -total / 2;
  runs.forEach(r => {
    ctx.font = r[0];
    ctx.letterSpacing = r[2] || '0px';
    ctx.fillText(r[1], cx, 0);
    cx += ctx.measureText(r[1]).width;
  });
  ctx.restore();
}

function line(ctx, x1, y1, x2, y2, width, dash) {
  ctx.save();
  ctx.strokeStyle = '#000';
  ctx.lineWidth = width || 1.6;
  ctx.setLineDash(dash || []);
  ctx.beginPath();
  ctx.moveTo(x1, y1);
  ctx.lineTo(x2, y2);
  ctx.stroke();
  ctx.restore();
}

function arrow(ctx, x1, y1, x2, y2) {
  line(ctx, x1, y1, x2, y2);
  const a = Math.atan2(y2 - y1, x2 - x1);
  [0.62, -0.62].forEach(d => {
    line(ctx, x2, y2, x2 - 10 * Math.cos(a + d), y2 - 10 * Math.sin(a + d));
  });
}

// Delta x-bar-hat with the subscript, x/y is the left end of the baseline
function offsetLabel(ctx, x, y) {
  ctx.save();
  ctx.fillStyle = '#000';
  ctx.textBaseline = 'alphabetic';
  ctx.textAlign = 'left';
  ctx.font = '30px ' + SERIF;
  ctx.fillText('Δ', x - 2, y);
  ctx.font = 'italic 30px ' + SERIF;
  ctx.fillText('x', x + 22, y);
  ctx.font = '21px ' + SERIF;
  ctx.fillText('off', x + 38, y + 3);
  ctx.restore();
  line(ctx, x + 24, y - 21, x + 38, y - 21, 1.2);
  line(ctx, x + 23, y - 25, x + 31, y - 30, 1.2);
  line(ctx, x + 31, y - 30, x + 39, y - 25, 1.2);
}

const frameTicks = {
  id: 'frameTicks',
  afterDatasetsDraw(chart, args, opts) {
    const { ctx, chartArea: area, scales } = chart;
    if (opts.grey) {
      ctx.save();
      ctx.strokeStyle = '#777';
      ctx.lineWidth = 1;
      ctx.strokeRect(area.left, area.top, area.right - area.left, area.bottom - area.top);
      ctx.restore();
      return;
    }
    const xs = scales.x, ys = scales.y;
    const mark = (v, len, horizontal) => {
      if (horizontal) {
        const p = xs.getPixelForValue(v);
        line(ctx, p, area.bottom, p, area.bottom - len, 2);
        line(ctx, p, area.top, p, area.top + len, 2);
      } else {
        const p = ys.getPixelForValue(v);
        line(ctx, area.left, p, area.left + len, p, 2);
        line(ctx, area.right, p, area.right - len, p, 2);
      }
    };
    if (opts.minorX) {
      for (let v = xs.min; v <= xs.max + 1e-9; v += opts.minorX) mark(v, opts.minorLenX, true);
    }
    if (opts.minorY) {
      for (let v = ys.min; v <= ys.max + 1e-9; v += opts.minorY) mark(v, opts.minorLenY, false);
    }
    xs.ticks.forEach(t => mark(t.value, opts.majorLenX, true));
    ys.ticks.forEach(t => mark(t.value, opts.majorLenY, false));
    ctx.save();
    ctx.strokeStyle = '#000';
    ctx.lineWidth = 2.4;
    ctx.strokeRect(area.left, area.top, area.right - area.left, area.bottom - area.top);
    ctx.restore();
  }
};

const notesA = {
  id: 'notesA',
  afterDraw(chart) {
    const { ctx, scales: { x, y } } = chart;
    const y0 = y.getPixelForValue(0);
    arrow(ctx, x.getPixelForValue(-10), y0, x.getPixelForValue(offsetLinesA[0]), y0);
    arrow(ctx, x.getPixelForValue(9.5), y0, x.getPixelForValue(offsetLinesA[1]), y0);
    offsetLabel(ctx, 268, 232);
    ctx.save();
    ctx.fillStyle = '#000';
    ctx.textAlign = 'left';
    ctx.font = 'bold 24px ' + SERIF;
    ctx.fillText('A', 130, 37);
    ctx.restore();
    drawRuns(ctx, [['30px ' + SERIF, 'odd']], 471, 114);
    drawRuns(ctx, [['30px ' + SERIF, 'even']], 475, 376);
    drawRuns(ctx, [['italic 30px ' + SERIF, 'x', '1px'], ['30px ' + SERIF, ' (nm)', '1px']], 355, 552);
    drawRuns(ctx, [['italic 27px ' + SERIF, 'y'], ['27px ' + SERIF, ' (nm)']], 49, 243, true);
  }
};

const notesB = {
  id: 'notesB',
  afterDraw(chart) {
    const { ctx, scales: { x, y } } = chart;
    const cx = c => x.getPixelForValue(c);
    const cy = r => y.getPixelForValue(r);
    // true centre and the pixel corner next to it
    const dotY = cy(4.72), gridY = cy(5.05);
    const dotX = cx(4.92), gridX = cx(4.5);
    line(ctx, 86, dotY, 97, dotY);
    line(ctx, 110, dotY, cx(5.5), dotY, 1.6, [12, 8]);
    line(ctx, 86, gridY, cx(-0.5), gridY);
    arrow(ctx, 90.5, 105, 90.5, dotY);
    arrow(ctx, 90.5, 208, 90.5, gridY);
    line(ctx, dotX, cy(4.4), dotX, 287, 1.6, [12, 8]);
    line(ctx, gridX, cy(10), gridX, 310);
    arrow(ctx, 187, 305, gridX, 305);
    arrow(ctx, 294, 305, dotX, 305);
    drawRuns(ctx, [['italic 30px ' + SERIF, 'δy', '1px']], 65, 167);
    drawRuns(ctx, [['italic 30px ' + SERIF, 'δx', '1px']], 241, 339);
    ctx.save();
    ctx.fillStyle = '#000';
    ctx.textAlign = 'left';
    ctx.font = 'bold 24px ' + SERIF;
    ctx.fillText('B', 130, 27);
    ctx.restore();
  }
};

const notesOdd = {
  id: 'notesOdd',
  afterDraw(chart) {
    drawRuns(chart.ctx, [['25px ' + SERIF, 'odd']], 198, 27);
  }
};

const notesEven = {
  id: 'notesEven',
  afterDraw(chart) {
    const { ctx, scales: { x, y } } = chart;
    const leftX = x.getPixelForValue(4.8), rightX = x.getPixelForValue(5.18);
    line(ctx, leftX, 85, leftX, 295);
    line(ctx, rightX, y.getPixelForValue(2.45), rightX, 295);
    arrow(ctx, 77, 295, leftX, 295);
    arrow(ctx, 183, 295, rightX, 295);
    offsetLabel(ctx, 93, 328);
    drawRuns(ctx, [['25px ' + SERIF, 'even']], 194, 157);
  }
};

const notesC = {
  id: 'notesC',
  afterDraw(chart) {
    const ctx = chart.ctx;
    ctx.save();
    ctx.fillStyle = '#000';
    ctx.textAlign = 'left';
    ctx.font = 'bold 24px ' + SERIF;
    ctx.fillText('C', 130, 38);
    ctx.restore();
    drawRuns(ctx, [['italic 27px ' + SERIF, 'δx', '1px'], ['27px ' + SERIF, ' (pxl)', '1.5px']], 356, 349);
    drawRuns(ctx, [['italic 27px ' + SERIF, 'b'], ['27px ' + SERIF, ' (pxl)']], 28, 143, true);
  }
};

function baseOptions(padding, tickMarks) {
  return {
    responsive: false,
    animation: false,
    events: [],
    layout: { padding: padding },
    plugins: { legend: { display: false }, tooltip: { enabled: false }, frameTicks: tickMarks }
  };
}

new Chart(document.getElementById('chartA'), {
  type: 'scatter',
  data: {
    datasets: [
      { data: [[offsetLinesA[0], -40], [offsetLinesA[0], 40]], showLine: true, borderColor: '#000', borderWidth: 1.6, pointRadius: 0 },
      { data: [[offsetLinesA[1], -40], [offsetLinesA[1], 40]], showLine: true, borderColor: '#000', borderWidth: 1.6, pointRadius: 0 },
      { data: oddPoints.concat(oddCore), pointStyle: 'rect', pointRadius: 2.8, backgroundColor: '#000', borderWidth: 0 },
      { data: evenPoints.concat(evenCore), pointStyle: 'circle', pointRadius: 2, backgroundColor: '#000', borderWidth: 0 }
    ]
  },
  options: Object.assign(baseOptions({ left: 5.5, right: 14, top: 3, bottom: 36 },
    { minorX: 5, minorY: 5, minorLenX: 5, minorLenY: 5, majorLenX: 9, majorLenY: 10 }), {
    scales: {
      x: {
        type: 'linear', min: -40, max: 40,
        grid: { display: false }, border: { display: false },
        afterFit: fixBox(0, 50), afterBuildTicks: useTicks(axisTicksA),
        ticks: { color: '#000', padding: 10, maxRotation: 0, autoSkip: false, font: { family: SERIF, size: 26 } }
      },
      y: {
        type: 'linear', min: -40, max: 40,
        grid: { display: false }, border: { display: false },
        afterFit: fixBox(110, 0), afterBuildTicks: useTicks(axisTicksA),
        ticks: {
          color: '#000', padding: 8, autoSkip: false, font: { family: SERIF, size: 26, lineHeight: '16px' },
          callback: v => v === 40 ? ['', '40'] : v === -40 ? ['-40', ''] : String(v)
        }
      }
    }
  }),
  plugins: [frameTicks, notesA]
});

function pixelChart(id, grey, padding, gap, notes) {
  const rows = grey.length;
  return new Chart(document.getElementById(id), {
    type: 'bar',
    data: {
      labels: pixelColumns,
      datasets: grey.map(row => ({
        data: row.map(() => 1),
        backgroundColor: row.map(g => `rgb(${g},${g},${g})`),
        borderColor: '#fff',
        borderWidth: gap,
        borderSkipped: false,
        barPercentage: gap ? 1 : 1.04,
        categoryPercentage: 1,
        stack: 'rows'
      }))
    },
    options: Object.assign(baseOptions(padding, { grey: true }), {
      scales: {
        x: { stacked: true, display: false },
        y: { stacked: true, display: false, reverse: true, min: 0, max: rows }
      }
    }),
    plugins: gap ? [notes] : [frameTicks, notes]
  });
}

pixelChart('chartB', greyFull, { left: 114.5, right: 24, top: 39.5, bottom: 68 }, 1.2, notesB);
pixelChart('chartOdd', greyOdd, { left: 10, right: 14, top: 29, bottom: 11 }, 0, notesOdd);
pixelChart('chartEven', greyEven, { left: 10, right: 14, top: 162, bottom: 78 }, 0, notesEven);

new Chart(document.getElementById('chartC'), {
  type: 'scatter',
  data: {
    datasets: [
      { data: biasFilled.concat(biasFilledMass), pointStyle: 'rect', pointRadius: 4.2, backgroundColor: '#000', borderWidth: 0 },
      { data: biasOpen.concat(biasOpenTeeth), pointStyle: 'circle', pointRadius: 3.5, backgroundColor: 'rgba(0,0,0,0)', borderColor: '#000', borderWidth: 1.1 }
    ]
  },
  options: Object.assign(baseOptions({ left: 5, right: 14, top: 5, bottom: 22 },
    { minorX: 0.05, minorLenX: 3, majorLenX: 6, majorLenY: 10 }), {
    scales: {
      x: {
        type: 'linear', min: -0.5, max: 0.5,
        grid: { display: false }, border: { display: false },
        afterFit: fixBox(0, 50), afterBuildTicks: useTicks(axisTicksCx),
        ticks: {
          color: '#000', padding: 15, maxRotation: 0, autoSkip: false, font: { family: SERIF, size: 24 },
          callback: v => v.toFixed(1)
        }
      },
      y: {
        type: 'linear', min: -0.0291, max: 0.0291,
        grid: { display: false }, border: { display: false },
        afterFit: fixBox(110, 0), afterBuildTicks: useTicks(axisTicksCy),
        ticks: {
          color: '#000', padding: 8, autoSkip: false, font: { family: SERIF, size: 24 },
          callback: v => v.toFixed(2)
        }
      }
    }
  }),
  plugins: [frameTicks, notesC]
});
</script>
</body>
</html>
